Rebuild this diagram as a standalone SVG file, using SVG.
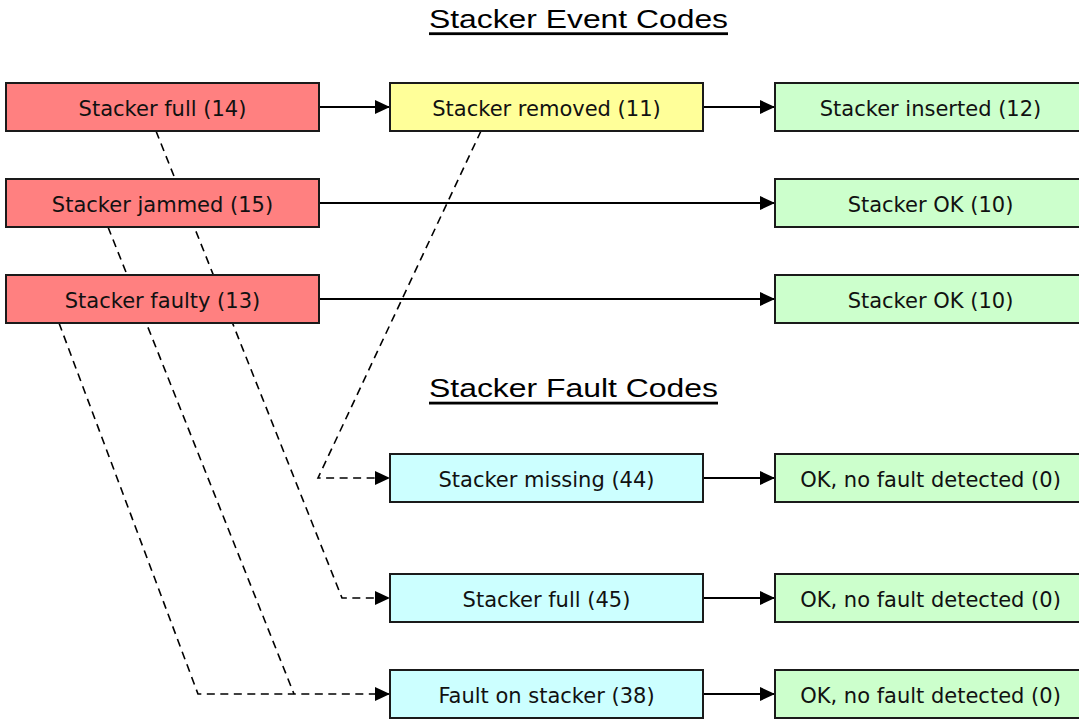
<svg xmlns="http://www.w3.org/2000/svg" width="1079" height="719" viewBox="0 0 1079 719">
<style>
.box{stroke:#1a1a1a;stroke-width:2}
.red{fill:#FF8080}
.yel{fill:#FFFF99}
.grn{fill:#CCFFCC}
.cyn{fill:#CCFFFF}
.lbl{font-family:"DejaVu Sans","Liberation Sans",sans-serif;font-size:21px;fill:#111;text-anchor:middle}
.ttl{font-family:"Liberation Sans",Arial,sans-serif;font-size:26px;fill:#000}
.sol{fill:none;stroke:#000;stroke-width:2}
.dsh{fill:none;stroke:#000;stroke-width:1.6;stroke-dasharray:8,5.5}
</style>
<defs>
<marker id="ah" markerUnits="userSpaceOnUse" markerWidth="16" markerHeight="15" refX="15" refY="7" orient="auto" viewBox="0 0 16 15">
<path d="M0,0 L15,7 L0,14 Z" fill="#000"/>
</marker>
</defs>
<rect width="1079" height="719" fill="#fff"/>
<g id="titles">
<text class="ttl" x="429" y="27.5" textLength="299" lengthAdjust="spacingAndGlyphs">Stacker Event Codes</text>
<rect x="429" y="32.3" width="299" height="2.8" fill="#000"/>
<text class="ttl" x="429" y="396.5" textLength="289" lengthAdjust="spacingAndGlyphs">Stacker Fault Codes</text>
<rect x="429" y="401.7" width="289" height="2.8" fill="#000"/>
</g>
<g id="connectors">
<path class="dsh" d="M156,131 L342,598 L390,598" marker-end="url(#ah)"/>
<path class="dsh" d="M108,227 L294,694"/>
<path class="dsh" d="M59,323 L198,694 L390,694" marker-end="url(#ah)"/>
<path class="dsh" d="M481,131 L318,478 L390,478" marker-end="url(#ah)"/>
<path class="sol" d="M319,107 L390,107" marker-end="url(#ah)"/>
<path class="sol" d="M703,107 L775,107" marker-end="url(#ah)"/>
<path class="sol" d="M319,203 L775,203" marker-end="url(#ah)"/>
<path class="sol" d="M319,299 L775,299" marker-end="url(#ah)"/>
<path class="sol" d="M703,478 L775,478" marker-end="url(#ah)"/>
<path class="sol" d="M703,598 L775,598" marker-end="url(#ah)"/>
<path class="sol" d="M703,694 L775,694" marker-end="url(#ah)"/>
</g>
<g id="n-full14"><rect class="box red" x="6" y="83" width="313" height="48"/><text class="lbl" x="162.5" y="116">Stacker full (14)</text></g>
<g id="n-jammed15"><rect class="box red" x="6" y="179" width="313" height="48"/><text class="lbl" x="162.5" y="212">Stacker jammed (15)</text></g>
<g id="n-faulty13"><rect class="box red" x="6" y="275" width="313" height="48"/><text class="lbl" x="162.5" y="308">Stacker faulty (13)</text></g>
<g id="n-removed11"><rect class="box yel" x="390" y="83" width="313" height="48"/><text class="lbl" x="546.5" y="116">Stacker removed (11)</text></g>
<g id="n-inserted12"><rect class="box grn" x="775" y="83" width="311" height="48"/><text class="lbl" x="930.5" y="116">Stacker inserted (12)</text></g>
<g id="n-ok10a"><rect class="box grn" x="775" y="179" width="311" height="48"/><text class="lbl" x="930.5" y="212">Stacker OK (10)</text></g>
<g id="n-ok10b"><rect class="box grn" x="775" y="275" width="311" height="48"/><text class="lbl" x="930.5" y="308">Stacker OK (10)</text></g>
<g id="n-missing44"><rect class="box cyn" x="390" y="454" width="313" height="48"/><text class="lbl" x="546.5" y="487">Stacker missing (44)</text></g>
<g id="n-full45"><rect class="box cyn" x="390" y="574" width="313" height="48"/><text class="lbl" x="546.5" y="607">Stacker full (45)</text></g>
<g id="n-fault38"><rect class="box cyn" x="390" y="670" width="313" height="48"/><text class="lbl" x="546.5" y="703">Fault on stacker (38)</text></g>
<g id="n-ok0a"><rect class="box grn" x="775" y="454" width="311" height="48"/><text class="lbl" x="930.5" y="487">OK, no fault detected (0)</text></g>
<g id="n-ok0b"><rect class="box grn" x="775" y="574" width="311" height="48"/><text class="lbl" x="930.5" y="607">OK, no fault detected (0)</text></g>
<g id="n-ok0c"><rect class="box grn" x="775" y="670" width="311" height="48"/><text class="lbl" x="930.5" y="703">OK, no fault detected (0)</text></g>
</svg>
